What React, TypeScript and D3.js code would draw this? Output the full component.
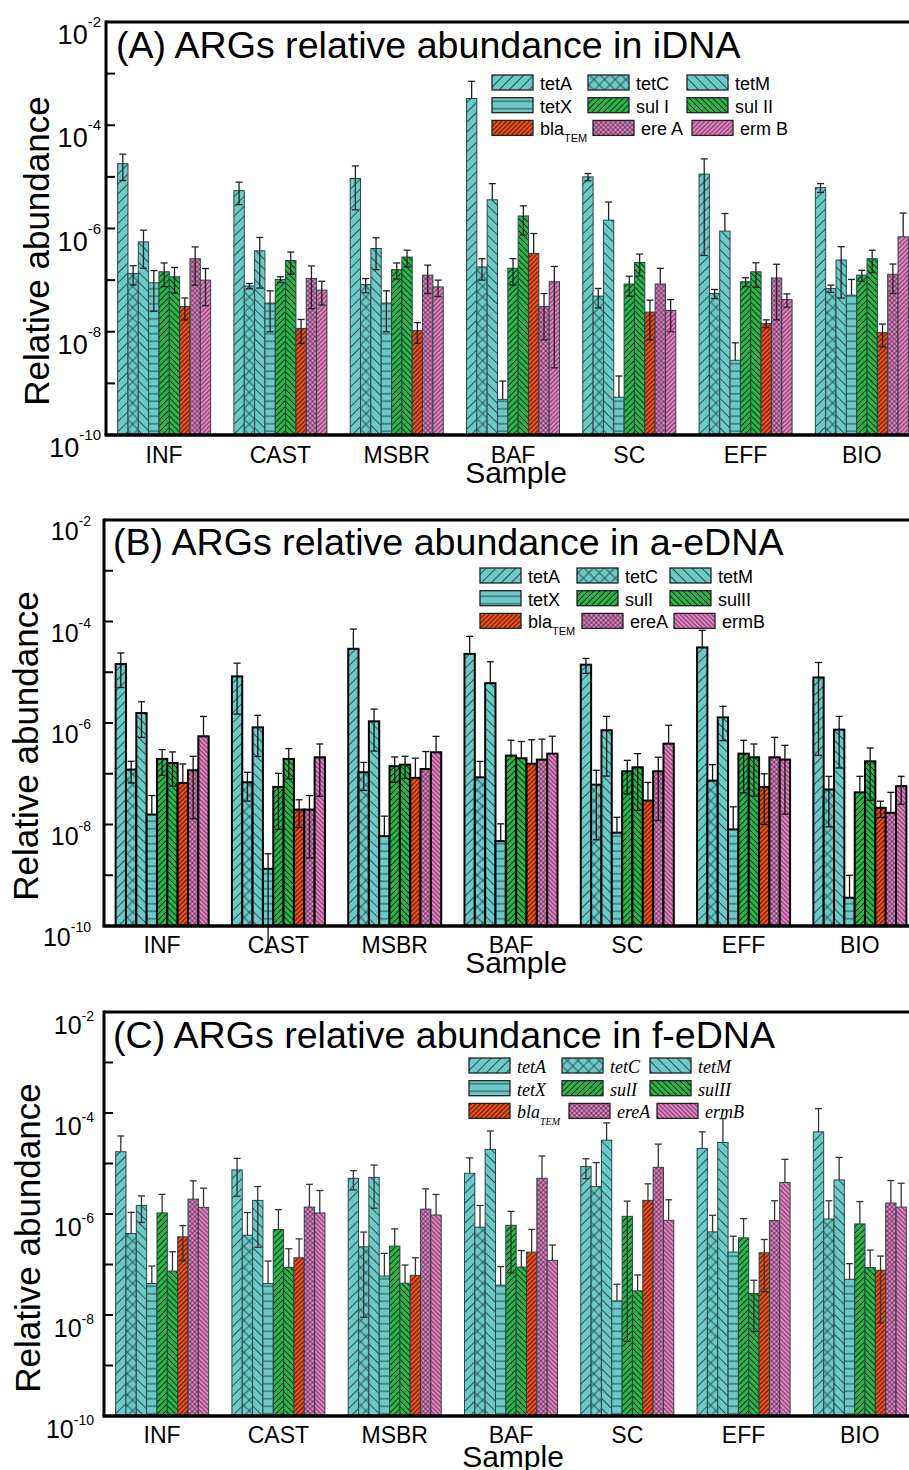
import React from 'react';
import * as d3 from 'd3';

// samples on the x axis, genes in each group
const samples = ['INF', 'CAST', 'MSBR', 'BAF', 'SC', 'EFF', 'BIO'];
const genes = ['tetA', 'tetC', 'tetM', 'tetX', 'sulI', 'sulII', 'bla', 'ereA', 'ermB'];
const yExponents = [-2, -3, -4, -5, -6, -7, -8, -9, -10];
const yLabelExponents = [-2, -4, -6, -8, -10];

const labelsA = ['tetA', 'tetC', 'tetM', 'tetX', 'sul I', 'sul II', 'bla', 'ere A', 'erm B'];
const labelsBC = ['tetA', 'tetC', 'tetM', 'tetX', 'sulI', 'sulII', 'bla', 'ereA', 'ermB'];

// rows = genes, columns = samples
const idnaMean = [
  [1.8e-5, 5.4e-6, 9.3e-6, 3.3e-4, 1.0e-5, 1.13e-5, 6.2e-6],
  [1.35e-7, 7.7e-8, 8.2e-8, 1.8e-7, 4.9e-8, 5.5e-8, 6.9e-8],
  [5.5e-7, 3.7e-7, 4.1e-7, 3.6e-6, 1.45e-6, 8.9e-7, 2.45e-7],
  [8.9e-8, 3.6e-8, 3.6e-8, 4.9e-10, 5.4e-10, 2.8e-9, 5.1e-8],
  [1.45e-7, 1.03e-7, 1.6e-7, 1.7e-7, 8.4e-8, 9.3e-8, 1.25e-7],
  [1.16e-7, 2.4e-7, 2.8e-7, 1.75e-6, 2.2e-7, 1.45e-7, 2.6e-7],
  [3.1e-8, 1.16e-8, 1.05e-8, 3.3e-7, 2.4e-8, 1.45e-8, 9.6e-9],
  [2.6e-7, 1.08e-7, 1.25e-7, 3.1e-8, 8.4e-8, 1.1e-7, 1.3e-7],
  [1.0e-7, 6.4e-8, 7.4e-8, 9.3e-8, 2.6e-8, 4.2e-8, 6.9e-7],
];
const idnaErr = [
  [9.5e-6, 2.5e-6, 7e-6, 3.8e-4, 1.6e-6, 1.1e-5, 1.2e-6],
  [5.5e-8, 9e-9, 2.5e-8, 8e-8, 2e-8, 1.1e-8, 1.1e-8],
  [3.8e-7, 3e-7, 2.5e-7, 3.8e-6, 1.8e-6, 1.06e-6, 2e-7],
  [6.4e-8, 2.6e-8, 2.6e-8, 6.2e-10, 8.5e-10, 3.3e-9, 5.2e-8],
  [7e-8, 1.3e-8, 5.5e-8, 9e-8, 3.5e-8, 1.8e-8, 3e-8],
  [6e-8, 1.1e-7, 1e-7, 1e-6, 1e-7, 7.2e-8, 1.2e-7],
  [1.4e-8, 5.7e-9, 4.5e-9, 4.7e-7, 1.7e-8, 2.5e-9, 4.5e-9],
  [1.8e-7, 8e-8, 7e-8, 2.4e-8, 8.5e-8, 9.3e-8, 7.5e-8],
  [6.8e-8, 3.1e-8, 2.6e-8, 9.1e-8, 1.6e-8, 1.2e-8, 1.3e-6],
];

const aednaMean = [
  [1.45e-5, 8.3e-6, 2.9e-5, 2.3e-5, 1.41e-5, 3.08e-5, 7.9e-6],
  [1.21e-7, 6.8e-8, 1.07e-7, 8.5e-8, 6.1e-8, 7.3e-8, 4.9e-8],
  [1.57e-6, 8.2e-7, 1.08e-6, 6.1e-6, 7.2e-7, 1.29e-6, 7.4e-7],
  [1.57e-8, 1.34e-9, 5.9e-9, 4.7e-9, 6.9e-9, 8e-9, 3.6e-10],
  [1.96e-7, 5.5e-8, 1.41e-7, 2.28e-7, 1.12e-7, 2.49e-7, 4.3e-8],
  [1.63e-7, 1.96e-7, 1.51e-7, 2.02e-7, 1.34e-7, 2.11e-7, 1.76e-7],
  [6.6e-8, 1.97e-8, 8.3e-8, 1.58e-7, 2.96e-8, 5.5e-8, 2.13e-8],
  [1.17e-7, 1.97e-8, 1.24e-7, 1.9e-7, 1.12e-7, 2.11e-7, 1.7e-8],
  [5.47e-7, 2.11e-7, 2.65e-7, 2.49e-7, 3.92e-7, 1.9e-7, 5.7e-8],
];
const aednaErr = [
  [9.5e-6, 6.8e-6, 4.2e-5, 2.8e-5, 4.6e-6, 3.6e-5, 7.67e-6],
  [5.5e-8, 3.9e-8, 6e-8, 9e-8, 5.6e-8, 7.8e-8, 4e-8],
  [1.05e-6, 6e-7, 8e-7, 1.0e-5, 6.3e-7, 8.4e-7, 6.1e-7],
  [2.15e-8, 1.31e-9, 8.7e-9, 5.6e-9, 7e-9, 1.43e-8, 6.4e-10],
  [1.03e-7, 4.7e-8, 7.3e-8, 2.3e-7, 7.2e-8, 2.07e-7, 4.6e-8],
  [1.06e-7, 1.17e-7, 7e-8, 2.3e-7, 1.15e-7, 1.75e-7, 1.46e-7],
  [9e-8, 1.1e-8, 1.2e-7, 3.1e-7, 3.8e-8, 4.5e-8, 7.5e-9],
  [1.04e-7, 1.75e-8, 1.5e-7, 2.9e-7, 1e-7, 3.1e-7, 2.6e-8],
  [8e-7, 1.75e-7, 2.8e-7, 3e-7, 5.1e-7, 1.74e-7, 3.2e-8],
];

const fednaMean = [
  [1.71e-5, 7.45e-6, 5.1e-6, 6.4e-6, 8.7e-6, 1.99e-5, 4.23e-5],
  [4.1e-7, 3.8e-7, 2.24e-7, 5.47e-7, 3.5e-6, 4.43e-7, 7.97e-7],
  [1.48e-6, 1.86e-6, 5.3e-6, 1.9e-5, 2.9e-5, 2.61e-5, 4.73e-6],
  [4.2e-8, 4.2e-8, 5.9e-8, 3.9e-8, 1.91e-8, 1.76e-7, 5.1e-8],
  [1.05e-6, 4.92e-7, 2.31e-7, 5.98e-7, 9e-7, 3.37e-7, 6.36e-7],
  [7.4e-8, 8.7e-8, 4.26e-8, 8.9e-8, 3.01e-8, 2.67e-8, 8.7e-8],
  [3.53e-7, 1.36e-7, 6.1e-8, 1.76e-7, 1.86e-6, 1.71e-7, 7.7e-8],
  [1.97e-6, 1.37e-6, 1.25e-6, 5.1e-6, 8.4e-6, 7.4e-7, 1.65e-6],
  [1.35e-6, 1.05e-6, 9.55e-7, 1.21e-7, 7.5e-7, 4.2e-6, 1.37e-6],
];
const fednaErr = [
  [1.8e-5, 5.2e-6, 2.1e-6, 6.5e-6, 3.7e-6, 2.24e-5, 8e-5],
  [6.7e-7, 6.9e-7, 2.15e-7, 9.3e-7, 6.9e-6, 5e-7, 1.03e-6],
  [8e-7, 1.64e-6, 4e-6, 2.5e-5, 3.46e-5, 5.1e-5, 8.5e-6],
  [5.1e-8, 7.5e-8, 1.07e-7, 5.2e-8, 2.16e-8, 1.88e-7, 5.3e-8],
  [1.4e-6, 7.3e-7, 2.76e-7, 5.3e-7, 8.97e-7, 4.7e-7, 1.13e-6],
  [1.05e-7, 1.18e-7, 5.5e-8, 1e-7, 3.2e-8, 2.2e-8, 1.06e-7],
  [2.35e-7, 1.86e-7, 7.5e-8, 3.2e-7, 2.1e-6, 1.42e-7, 7e-8],
  [2.56e-6, 2.5e-6, 1.9e-6, 9e-6, 1.58e-5, 1.09e-6, 2.95e-6],
  [1.9e-6, 1.87e-6, 1.48e-6, 1.22e-7, 1.16e-6, 7.9e-6, 2.7e-6],
];

const SANS = '"Liberation Sans", Arial, Helvetica, sans-serif';
const SERIF = '"Liberation Serif", "Times New Roman", serif';

const CYAN = '#6dc9c8';
const GREEN = '#2db34b';
const ORANGE = '#f4511f';
const PINK = '#e583c5';
const PINK2 = '#df8bc8';

// fill + hatch for each gene
const hatch = (ermBKind) => [
  { fill: CYAN, kind: 'fwd', gap: 7, color: '#1e4a4a', sw: 0.9 },
  { fill: CYAN, kind: 'cross', gap: 7.5, color: '#1e4a4a', sw: 0.9 },
  { fill: CYAN, kind: 'back', gap: 7, color: '#1e4a4a', sw: 0.9 },
  { fill: CYAN, kind: 'horiz', gap: 7.5, color: '#1e4a4a', sw: 1 },
  { fill: GREEN, kind: 'fwd', gap: 4.2, color: '#0b2611', sw: 0.9 },
  { fill: GREEN, kind: 'back', gap: 4.2, color: '#0b2611', sw: 0.9 },
  { fill: ORANGE, kind: 'fwd', gap: 3.3, color: '#2a0f05', sw: 0.9 },
  { fill: PINK2, kind: 'cross', gap: 3.4, color: '#4a1a3c', sw: 0.7 },
  { fill: PINK, kind: ermBKind, gap: 3.2, color: '#3a1530', sw: 0.7 },
];

const panels = [
  {
    id: 'a', top: 22, bottom: 435, left: 106, means: idnaMean, errs: idnaErr,
    title: '(A) ARGs relative abundance in iDNA', titleY: 58, titleX: 116,
    labels: labelsA, italic: false, ermB: 'fwd',
    barStroke: '#2b4545', barSw: 1, errColor: '#222',
    tickFont: 27, supFont: 15, supDy: -17, tickOff: 22, tickX: 101,
    yLabelX: 49, yLabelY: 251, sampleY: 483, sampleX: 516, catOff: 28,
    legX: [492, 588, 687], legY: 75, legShift: [0, 5, 5],
  },
  {
    id: 'b', top: 520, bottom: 926, left: 104, means: aednaMean, errs: aednaErr,
    title: '(B) ARGs relative abundance in a-eDNA', titleY: 555, titleX: 113,
    labels: labelsBC, italic: false, ermB: 'back',
    barStroke: '#000', barSw: 2, errColor: '#111',
    tickFont: 25, supFont: 14, supDy: -14, tickOff: 20, tickX: 91,
    yLabelX: 38, yLabelY: 746, sampleY: 973, sampleX: 516, catOff: 27,
    legX: [480, 577, 670], legY: 568, legShift: [0, 5, 4],
  },
  {
    id: 'c', top: 1012, bottom: 1416, left: 104, means: fednaMean, errs: fednaErr,
    title: '(C) ARGs relative abundance in f-eDNA', titleY: 1048, titleX: 113,
    labels: labelsBC, italic: true, ermB: 'back',
    barStroke: '#2b4545', barSw: 1, errColor: '#333',
    tickFont: 25, supFont: 14, supDy: -13, tickOff: 22, tickX: 94,
    yLabelX: 40, yLabelY: 1238, sampleY: 1467, sampleX: 513, catOff: 27,
    legX: [469, 562, 650], legY: 1058, legShift: [0, 7, 7],
  },
];

function Pattern({ id, h }) {
  const g = h.gap;
  const rot = h.kind === 'fwd' || h.kind === 'cross' ? 'rotate(45)' : h.kind === 'back' ? 'rotate(-45)' : undefined;
  return (
    <pattern id={id} width={g} height={g} patternUnits="userSpaceOnUse" patternTransform={rot}>
      <rect width={g} height={g} fill={h.fill} />
      {h.kind !== 'horiz' && <line x1={g / 2} y1={0} x2={g / 2} y2={g} stroke={h.color} strokeWidth={h.sw} />}
      {(h.kind === 'cross' || h.kind === 'horiz') && <line x1={0} y1={g / 2} x2={g} y2={g / 2} stroke={h.color} strokeWidth={h.sw} />}
    </pattern>
  );
}

function Panel({ p }) {
  const y = d3.scaleLog().domain([1e-10, 1e-2]).range([p.bottom, p.top]);
  const x = d3.scaleBand().domain(samples).range([p.left, p.left + 814]).paddingInner(0.2).paddingOuter(0.1);
  const gx = d3.scaleBand().domain(genes).range([0, x.bandwidth()]);
  const bw = gx.bandwidth();
  const styles = hatch(p.ermB);
  const base = y(1e-10);
  const font = p.italic ? SERIF : SANS;

  return (
    <g>
      <defs>
        {styles.map((h, i) => <Pattern key={i} id={`${p.id}-${genes[i]}`} h={h} />)}
      </defs>

      {/* bars */}
      {genes.map((gene, gi) => samples.map((s, si) => {
        const v = p.means[gi][si];
        return (
          <rect key={gene + s} x={x(s) + gx(gene)} y={y(v)} width={bw} height={base - y(v)}
            fill={`url(#${p.id}-${gene})`} stroke={p.barStroke} strokeWidth={p.barSw} />
        );
      }))}

      {/* error bars */}
      {genes.map((gene, gi) => samples.map((s, si) => {
        const v = p.means[gi][si];
        const e = p.errs[gi][si];
        const cx = x(s) + gx(gene) + bw / 2;
        const yt = y(v + e);
        const lo = v - e > 0 ? y(v - e) : null;
        return (
          <g key={'e' + gene + s} stroke={p.errColor} strokeWidth={1.3}>
            <line x1={cx} x2={cx} y1={yt} y2={lo ?? y(v)} />
            <line x1={cx - 3.5} x2={cx + 3.5} y1={yt} y2={yt} />
            {lo !== null && <line x1={cx - 3.5} x2={cx + 3.5} y1={lo} y2={lo} />}
          </g>
        );
      }))}

      {/* frame */}
      <line x1={p.left} x2={909} y1={p.top} y2={p.top} stroke="#000" strokeWidth={3} />
      <line x1={p.left - 1.5} x2={909} y1={p.bottom} y2={p.bottom} stroke="#000" strokeWidth={3.5} />
      <line x1={p.left} x2={p.left} y1={p.top - 1.5} y2={p.bottom} stroke="#000" strokeWidth={3} />
      {yExponents.map(k => (
        <line key={k} x1={p.left} x2={p.left + 9} y1={y(10 ** k)} y2={y(10 ** k)} stroke="#000" strokeWidth={2} />
      ))}

      {/* y tick labels */}
      {yLabelExponents.map(k => (
        <text key={k} x={p.tickX} y={y(10 ** k) + p.tickOff} textAnchor="end" fontFamily={SANS} fontSize={p.tickFont}>
          <tspan>10</tspan>
          <tspan fontSize={p.supFont} dy={p.supDy}>{`-${-k}`}</tspan>
        </text>
      ))}

      {/* x tick labels */}
      {samples.map(s => (
        <text key={s} x={x(s) + x.bandwidth() / 2} y={p.bottom + p.catOff} textAnchor="middle" fontFamily={SANS} fontSize={23}>{s}</text>
      ))}
      <text x={p.sampleX} y={p.sampleY} textAnchor="middle" fontFamily={SANS} fontSize={30}>Sample</text>

      <text transform={`translate(${p.yLabelX},${p.yLabelY}) rotate(-90)`} textAnchor="middle" fontFamily={SANS} fontSize={35}>Relative abundance</text>

      <text x={p.titleX} y={p.titleY} fontFamily={SANS} fontSize={37.6}>{p.title}</text>

      {/* legend */}
      {genes.map((gene, i) => {
        const row = Math.floor(i / 3);
        const col = i % 3;
        const lx = p.legX[col] + (row === 2 ? p.legShift[col] : 0);
        const ly = p.legY + row * 22.7;
        const label = p.labels[i];
        return (
          <g key={'l' + gene}>
            <rect x={lx} y={ly} width={41} height={15} fill={`url(#${p.id}-${gene})`} stroke="#222" strokeWidth={1.3} />
            <text x={lx + 48} y={ly + 15} fontFamily={font} fontStyle={p.italic ? 'italic' : 'normal'} fontSize={18}>
              {label}
              {gene === 'bla' && <tspan fontSize={p.italic ? 10 : 11} dy={7}>TEM</tspan>}
            </text>
          </g>
        );
      })}
    </g>
  );
}

export default function App() {
  return (
    <div style={{ position: 'absolute', left: 0, top: 0, width: 909, height: 1470, background: '#fff' }}>
      <svg width={909} height={1470} viewBox="0 0 909 1470">
        <rect width={909} height={1470} fill="#fff" />
        {panels.map(p => <Panel key={p.id} p={p} />)}
      </svg>
    </div>
  );
}
